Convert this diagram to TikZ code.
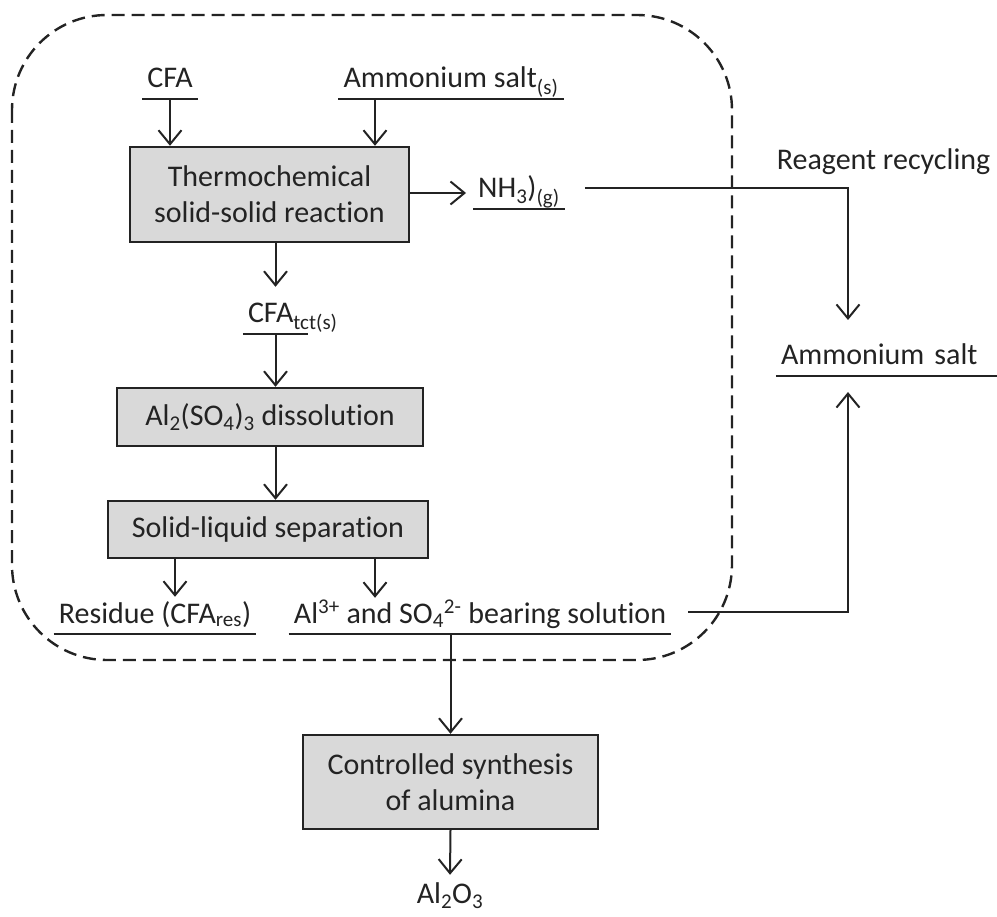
\documentclass[tikz,border=0pt]{standalone}
\usepackage{fontspec}
\setmainfont{Carlito}[Ligatures=NoCommon]
\usetikzlibrary{arrows.meta}
\newcommand{\sbs}[1]{\textsubscript{#1}}
\newcommand{\sps}[1]{\textsuperscript{#1}}
\definecolor{ink}{RGB}{35,35,35}
\begin{document}
\begin{tikzpicture}[x=1pt, y=-1pt,
    font=\fontsize{30}{36}\selectfont, text=ink,
    flow/.style={draw=ink, line width=2pt, -{Straight Barb[length=14pt,width=23pt]}},
    stage/.style={draw=ink, fill=black!15, line width=2.4pt, align=center, inner sep=0pt},
    item/.style={anchor=base, inner xsep=5pt, inner ysep=0pt, text height=21pt, text depth=11pt},
    uline/.style={draw=ink, line width=2pt},
    frame/.style={draw=ink, line width=2.4pt, dash pattern=on 13pt off 7pt, rounded corners=95pt}]
      \useasboundingbox (0,0) rectangle (997,917);
      \draw[frame] (12,15) rectangle (732,660);

      \node[item] (cfa) at (170,88) {CFA};
      \node[item] (ams) at (451,88) {Ammonium salt\sbs{(s)}};
      \node[stage, minimum width=279pt, minimum height=95pt] (thermo) at (269.5,194.5) {Thermochemical\\solid-solid reaction};
      \node[item] (nh3) at (519,198) {NH\sbs{3})\sbs{(g)}};
      \node[item, text width=55pt, align=left] (tct) at (275.5,323) {CFA\rlap{\sbs{tct(s)}}};
      \node[stage, minimum width=306pt, minimum height=58pt] (diss) at (270,417) {Al\sbs{2}(SO\sbs{4})\sbs{3} dissolution};
      \node[stage, minimum width=320pt, minimum height=57pt] (sep) at (268,529.5) {Solid-liquid separation};
      \node[item] (res) at (155,623) {Residue (CFA\sbs{res})};
      \node[item] (sol) at (480,623) {Al\sps{3+} and SO\sbs{4}\sps{2-} bearing solution};
      \node[stage, minimum width=295pt, minimum height=94pt] (synth) at (450.5,782) {Controlled synthesis\\of alumina};
      \node[item] (alo) at (450,903) {Al\sbs{2}O\sbs{3}};
      \node[item] (rcy) at (883.5,170) {Reagent recycling};
      \node[item, text width=211pt, align=left] (amm) at (886.5,365) {Ammonium salt};

      \draw[uline] (cfa.south west) -- (cfa.south east);
      \draw[uline] (ams.south west) -- (ams.south east);
      \draw[uline] (nh3.south west) -- (nh3.south east);
      \draw[uline] (tct.south west) -- (tct.south east);
      \draw[uline] (res.south west) -- (res.south east);
      \draw[uline] (sol.south west) -- (sol.south east);
      \draw[uline] (amm.south west) -- (amm.south east);

      \draw[flow] (cfa.south) -- (cfa.south |- thermo.north);
      \draw[flow] ([xshift=-76pt]ams.south) -- ([xshift=-76pt]ams.south |- thermo.north);
      \draw[flow] (thermo.east |- nh3.west) -- ([xshift=-7pt]nh3.west);
      \draw[flow] (thermo.south -| tct.south) -- ([yshift=15pt]tct.north);
      \draw[flow] (tct.south) -- (tct.south |- diss.north);
      \draw[flow] (diss.south -| tct.south) -- (sep.north -| tct.south);
      \draw[flow] ([xshift=-93pt]sep.south) -- ([xshift=-93pt,yshift=5pt]sep.south |- res.north);
      \draw[flow] ([xshift=107pt]sep.south) -- ([xshift=107pt,yshift=4pt]sep.south |- sol.north);
      \draw[flow] (sol.south -| synth.north) -- (synth.north);
      \draw[flow] (synth.south) -- ([yshift=7pt]alo.north);

      \coordinate (nhturn) at (848,320);
      \coordinate (solturn) at (848,392);
      \draw[flow] ([xshift=20pt,yshift=5pt]nh3.east) -| (nhturn);
      \draw[flow] ([xshift=17pt,yshift=6pt]sol.east) -| (solturn);
    \end{tikzpicture}
\end{document}
